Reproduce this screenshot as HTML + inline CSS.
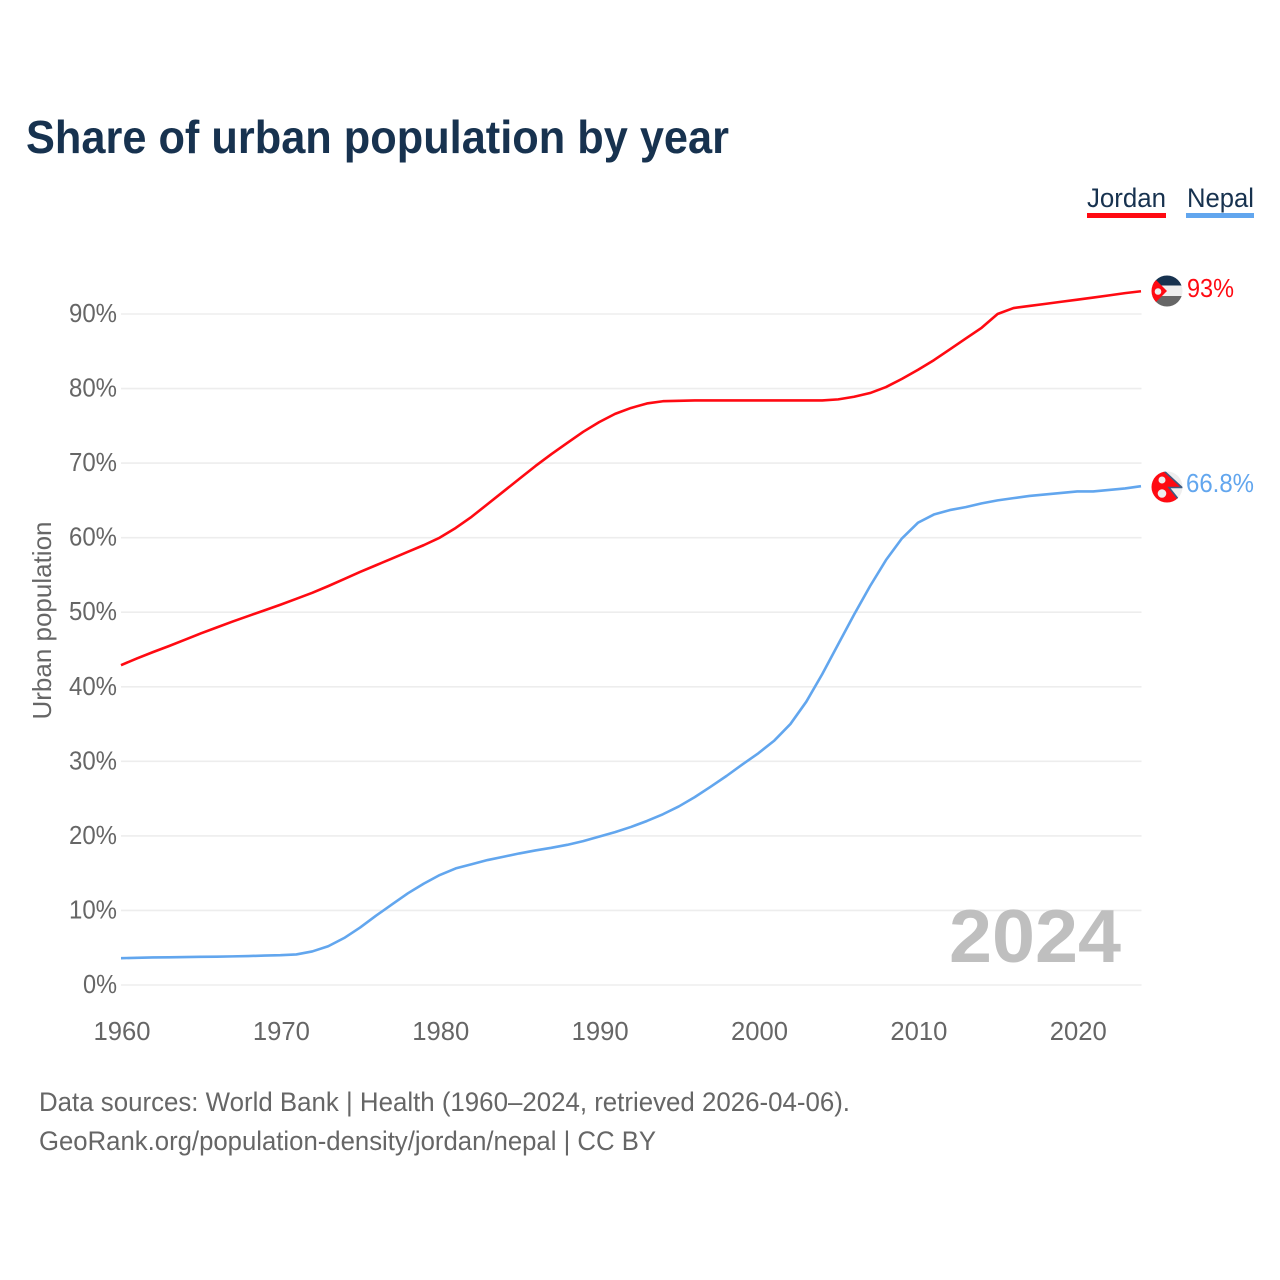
<!DOCTYPE html>
<html lang="en">
<head>
<meta charset="utf-8">
<title>Share of urban population by year</title>
<style>
html,body{margin:0;padding:0;background:#fff}
svg{display:block}
text{font-family:"Liberation Sans",sans-serif}
</style>
</head>
<body>
<svg id="chart" width="1280" height="1280" viewBox="0 0 1280 1280" xmlns="http://www.w3.org/2000/svg">
  <defs>
    <clipPath id="clip-jordan"><circle cx="1167" cy="291" r="15.5"/></clipPath>
    <clipPath id="clip-nepal"><circle cx="1167" cy="487" r="15.5"/></clipPath>
  </defs>
  <rect width="1280" height="1280" fill="#fff"/>
  <text x="26" y="153" font-size="46" font-weight="700" fill="#17324f" textLength="703" lengthAdjust="spacingAndGlyphs">Share of urban population by year</text>

  <g>
    <g>
      <text x="1087" y="207" font-size="27" fill="#17324f" textLength="79" lengthAdjust="spacingAndGlyphs">Jordan</text>
      <rect x="1087" y="213" width="79" height="5" fill="#ff0a12"/>
    </g>
    <g>
      <text x="1187" y="207" font-size="27" fill="#17324f" textLength="67" lengthAdjust="spacingAndGlyphs">Nepal</text>
      <rect x="1186" y="213" width="68" height="5" fill="#62a6ee"/>
    </g>
  </g>

  <g id="grid"></g>
  <g id="y-ticks"></g>
  <g id="x-ticks"></g>
  <text transform="translate(51 620.5) rotate(-90)" text-anchor="middle" font-size="26" fill="#666" textLength="198" lengthAdjust="spacingAndGlyphs">Urban population</text>

  <text x="949" y="962" font-size="75" font-weight="700" fill="#bfbfbf" textLength="172" lengthAdjust="spacingAndGlyphs">2024</text>

  <g id="series"></g>

  <g clip-path="url(#clip-jordan)">
    <rect x="1151" y="275" width="32" height="10.5" fill="#17324f"/>
    <rect x="1151" y="285.5" width="32" height="10.5" fill="#eeeeee"/>
    <rect x="1151" y="296" width="32" height="11" fill="#666666"/>
    <polygon points="1145,269 1167,291 1145,313" fill="#ff0a12"/>
    <circle cx="1158" cy="291.5" r="3.3" fill="#eeeeee"/>
  </g>
  <text id="label-jordan" x="1187" y="297" font-size="26" fill="#ff0a12" textLength="47" lengthAdjust="spacingAndGlyphs">93%</text>

  <g clip-path="url(#clip-nepal)">
    <rect x="1151" y="471" width="32" height="32" fill="#eeeeee"/>
    <polygon points="1148,465 1162,470 1182,487 1169,487 1179,500 1179,510 1148,510" fill="#ff0a12"/>
    <polyline points="1163,470 1182,487.5 1169,487.5 1179,500" fill="none" stroke="#3d5a80" stroke-width="1.6"/>
    <circle cx="1162" cy="480" r="3.5" fill="#eeeeee"/>
    <circle cx="1162" cy="493.5" r="4.3" fill="#eeeeee"/>
  </g>
  <text id="label-nepal" x="1186" y="492" font-size="26" fill="#62a6ee" textLength="68" lengthAdjust="spacingAndGlyphs">66.8%</text>

  <text x="39" y="1111" font-size="27" fill="#666" textLength="811" lengthAdjust="spacingAndGlyphs">Data sources: World Bank | Health (1960–2024, retrieved 2026-04-06).</text>
  <text x="39" y="1150" font-size="27" fill="#666" textLength="617" lengthAdjust="spacingAndGlyphs">GeoRank.org/population-density/jordan/nepal | CC BY</text>
</svg>
<script>
const years = [];
for (let yr = 1960; yr <= 2024; yr++) years.push(yr);
const jordanValues = [42.9,43.8,44.65,45.45,46.3,47.15,47.95,48.75,49.5,50.25,51.0,51.8,52.6,53.5,54.45,55.4,56.3,57.2,58.1,59.0,60.0,61.3,62.8,64.5,66.2,67.9,69.6,71.2,72.7,74.2,75.5,76.6,77.4,78.0,78.3,78.35,78.4,78.4,78.4,78.4,78.4,78.4,78.4,78.4,78.4,78.55,78.9,79.4,80.2,81.3,82.5,83.8,85.25,86.7,88.15,90.0,90.8,91.08,91.36,91.64,91.92,92.2,92.5,92.8,93.05];
const nepalValues = [3.6,3.65,3.7,3.72,3.75,3.78,3.8,3.84,3.88,3.95,4.0,4.1,4.5,5.2,6.3,7.7,9.3,10.8,12.3,13.6,14.75,15.64,16.2,16.76,17.2,17.65,18.05,18.4,18.8,19.3,19.9,20.5,21.2,22.0,22.9,23.95,25.2,26.6,28.05,29.6,31.1,32.8,35.0,38.0,41.7,45.7,49.7,53.5,57.0,59.9,62.0,63.1,63.7,64.1,64.6,65.0,65.3,65.6,65.8,66.0,66.2,66.2,66.4,66.6,66.9];
const yTickValues = [0,10,20,30,40,50,60,70,80,90];
const xTickValues = [1960,1970,1980,1990,2000,2010,2020];

const NS = 'http://www.w3.org/2000/svg';
function xScale(yr){ return 121 + (yr - 1960) * (1141 - 121) / 64; }
function yScale(v){ return 985 - v * (985 - 314) / 90; }

const grid = document.getElementById('grid');
const yTicks = document.getElementById('y-ticks');
const xTicks = document.getElementById('x-ticks');
const series = document.getElementById('series');

yTickValues.forEach(function(v){
  const line = document.createElementNS(NS, 'line');
  
  
  line.setAttribute('x1', 121);
  line.setAttribute('x2', 1141.5);
  line.setAttribute('y1', yScale(v));
  line.setAttribute('y2', yScale(v));
  line.setAttribute('stroke', '#ededed');
  line.setAttribute('stroke-width', '1.6');
  grid.appendChild(line);

  const label = document.createElementNS(NS, 'text');
  
  
  label.setAttribute('x', 117);
  label.setAttribute('y', yScale(v) + 8);
  label.setAttribute('text-anchor', 'end');
  label.setAttribute('font-size', '26');
  label.setAttribute('fill', '#666');
  label.setAttribute('textLength', v === 0 ? 34 : 48);
  label.setAttribute('lengthAdjust', 'spacingAndGlyphs');
  label.textContent = v + '%';
  yTicks.appendChild(label);
});

xTickValues.forEach(function(yr){
  const label = document.createElementNS(NS, 'text');
  
  
  label.setAttribute('x', xScale(yr) + 1);
  label.setAttribute('y', 1040);
  label.setAttribute('text-anchor', 'middle');
  label.setAttribute('font-size', '26');
  label.setAttribute('fill', '#666');
  label.setAttribute('textLength', 57);
  label.setAttribute('lengthAdjust', 'spacingAndGlyphs');
  label.textContent = yr;
  xTicks.appendChild(label);
});

function linePoints(values){
  return values.map(function(v, i){
    return xScale(years[i]).toFixed(2) + ',' + yScale(v).toFixed(2);
  }).join(' ');
}

const jordanLine = document.createElementNS(NS, 'polyline');


jordanLine.setAttribute('points', linePoints(jordanValues));
jordanLine.setAttribute('fill', 'none');
jordanLine.setAttribute('stroke', '#ff0a12');
jordanLine.setAttribute('stroke-width', '2.6');
jordanLine.setAttribute('stroke-linejoin', 'round');
series.appendChild(jordanLine);

const nepalLine = document.createElementNS(NS, 'polyline');


nepalLine.setAttribute('points', linePoints(nepalValues));
nepalLine.setAttribute('fill', 'none');
nepalLine.setAttribute('stroke', '#62a6ee');
nepalLine.setAttribute('stroke-width', '2.6');
nepalLine.setAttribute('stroke-linejoin', 'round');
series.appendChild(nepalLine);
</script>
</body>
</html>
